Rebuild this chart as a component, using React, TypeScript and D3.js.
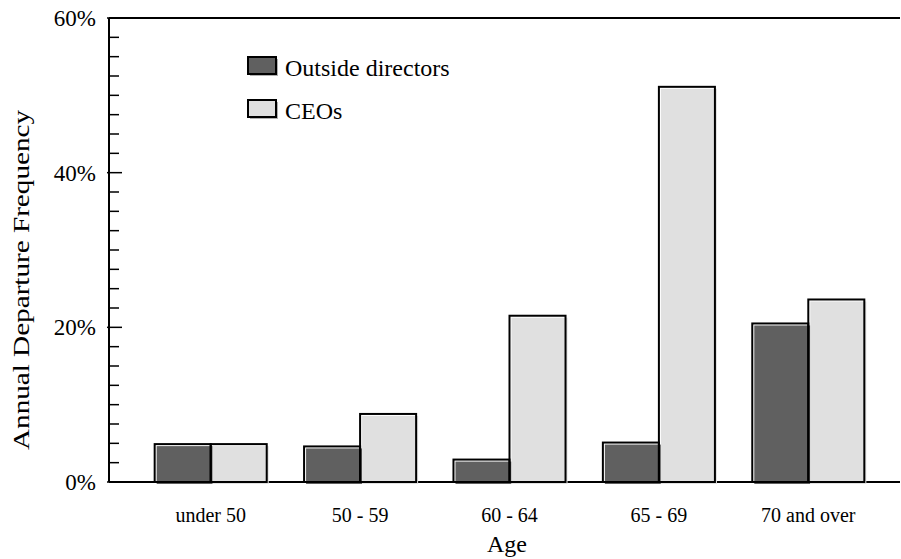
import { useMemo } from 'react';
import * as d3 from 'd3';

const AGE_GROUPS = ['under 50', '50 - 59', '60 - 64', '65 - 69', '70 and over'];
const SERIES = ['Outside directors', 'CEOs'];
const DIRECTORS = [0.049, 0.046, 0.029, 0.051, 0.205];
const CEOS = [0.049, 0.088, 0.215, 0.511, 0.236];
const Y_TICK_LABELS = ['0%', '20%', '40%', '60%'];

const FILLS: Record<string, string> = {
  'Outside directors': '#606060',
  CEOs: '#e0e0e0',
};

const W = 901;
const H = 559;
const FONT = "'Liberation Serif', 'Times New Roman', Times, serif";
const SHADOW = 2;

export default function App() {
  const plot = { left: 109, right: 900, top: 18, bottom: 482 };

  const y = useMemo(() => d3.scaleLinear().domain([0, 0.6]).range([plot.bottom, plot.top]), []);
  const x = useMemo(
    () => d3.scaleBand<string>().domain(AGE_GROUPS).range([136, 883]).paddingInner(0.25).paddingOuter(0.125),
    [],
  );
  const xs = useMemo(() => d3.scaleBand<string>().domain(SERIES).range([0, x.bandwidth()]), [x]);

  const rows = AGE_GROUPS.map((g, i) => ({ group: g, values: [DIRECTORS[i], CEOS[i]] }));
  const majorTicks = d3.range(0, 0.6001, 0.2);
  const minorTicks = d3.range(0, 0.6001, 0.025).filter((t) => Math.abs(t / 0.2 - Math.round(t / 0.2)) > 1e-6);

  const bars = rows.flatMap((r) =>
    SERIES.map((s, j) => ({
      key: `${r.group}-${s}`,
      series: s,
      x: (x(r.group) ?? 0) + (xs(s) ?? 0),
      w: xs.bandwidth(),
      y: y(r.values[j]),
      h: plot.bottom - y(r.values[j]),
    })),
  );

  return (
    <svg
      width={W}
      height={H}
      style={{ position: 'absolute', left: 0, top: 0, background: '#fff', fontFamily: FONT }}
    >
      {/* frame: top line, baseline, y axis */}
      <line x1={plot.left} x2={plot.right} y1={plot.top} y2={plot.top} stroke="#000" strokeWidth={2} />
      <line x1={plot.left} x2={plot.right} y1={plot.bottom} y2={plot.bottom} stroke="#000" strokeWidth={2} />
      <line x1={plot.left} x2={plot.left} y1={plot.top} y2={plot.bottom} stroke="#000" strokeWidth={2} />

      {minorTicks.map((t) => (
        <line key={`mn${t}`} x1={plot.left} x2={plot.left + 10} y1={y(t)} y2={y(t)} stroke="#000" strokeWidth={1.5} />
      ))}
      {majorTicks.map((t, i) => (
        <g key={`mj${t}`}>
          <line x1={plot.left - 2} x2={plot.left + 13} y1={y(t)} y2={y(t)} stroke="#000" strokeWidth={1.5} />
          <text x={96} y={y(t)} dy="0.35em" textAnchor="end" fontSize={23} fill="#000">
            {Y_TICK_LABELS[i]}
          </text>
        </g>
      ))}

      {/* bars: offset fill (shadow look) then outline */}
      {bars.map((b) => (
        <rect key={`f-${b.key}`} x={b.x + SHADOW} y={b.y + SHADOW} width={b.w} height={b.h} fill={FILLS[b.series]} />
      ))}
      {bars.map((b) => (
        <rect key={`o-${b.key}`} x={b.x} y={b.y} width={b.w} height={b.h} fill="none" stroke="#000" strokeWidth={2} />
      ))}

      {AGE_GROUPS.map((g) => (
        <text key={g} x={(x(g) ?? 0) + x.bandwidth() / 2} y={522} textAnchor="middle" fontSize={20} fill="#000">
          {g}
        </text>
      ))}

      <text x={507} y={552} textAnchor="middle" fontSize={24} fill="#000">
        Age
      </text>
      <text
        transform="translate(29,280) rotate(-90)"
        textAnchor="middle"
        fontSize={24}
        textLength={340}
        lengthAdjust="spacingAndGlyphs"
        fill="#000"
      >
        Annual Departure Frequency
      </text>

      {/* legend */}
      {SERIES.map((s, i) => {
        const top = 57 + i * 43;
        return (
          <g key={s}>
            <rect x={248 + SHADOW} y={top + SHADOW} width={28} height={17} fill="#b0b0b0" />
            <rect x={248} y={top} width={28} height={17} fill={FILLS[s]} stroke="#000" strokeWidth={2} />
            <text x={285} y={top + 19} fontSize={24} fill="#000">
              {s}
            </text>
          </g>
        );
      })}
    </svg>
  );
}
